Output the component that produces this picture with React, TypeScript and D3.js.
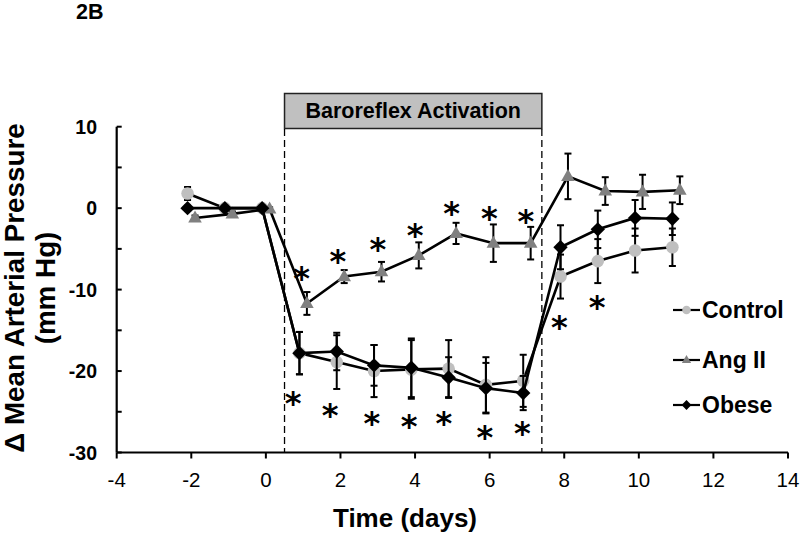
import React from "react";
import * as d3 from "d3";

const days = [-2, -1, 0, 1, 2, 3, 4, 5, 6, 7, 8, 9, 10, 11];
const leftX = [-2.1, -1.1, -0.1, 0.9, 1.9, 2.9, 3.9, 4.9, 5.9, 6.9, 7.9, 8.9, 9.9, 10.9];
const rightX = [-1.9, -0.9, 0.1, 1.1, 2.1, 3.1, 4.1, 5.1, 6.1, 7.1, 8.1, 9.1, 10.1, 11.1];

const controlVals = [1.8, 0, 0, -17.8, -18.9, -20.0, -19.8, -19.7, -21.7, -21.2, -8.4, -6.5, -5.2, -4.8];
const controlErr = [0.8, 0.3, 0.3, 2.6, 3.3, 3.2, 3.6, 3.5, 3.4, 3.2, 2.7, 2.7, 2.7, 2.3];
const angVals = [-1.2, -0.7, -0.1, -11.7, -8.4, -7.8, -5.8, -3.1, -4.3, -4.3, 3.9, 2.1, 2.0, 2.2];
const angErr = [0.3, 0.3, 0.2, 1.4, 0.8, 1.2, 1.6, 1.3, 2.3, 2.0, 2.8, 1.7, 2.1, 1.7];
const obeseVals = [0, 0, 0, -17.8, -17.6, -19.3, -19.6, -20.8, -22.1, -22.7, -4.8, -2.6, -1.2, -1.3];
const obeseErr = [0.3, 0.3, 0.3, 2.6, 2.3, 2.5, 3.6, 2.5, 3.1, 2.1, 2.7, 2.3, 2.2, 2.0];

const sigX = [0.96, 1.93, 3.0, 4.0, 4.98, 5.99, 6.97, 0.73, 1.72, 2.84, 3.84, 4.77, 5.87, 6.88, 7.87, 8.88];
const sigY = [-7.8, -5.7, -4.3, -2.5, 0.2, -0.5, -0.8, -23.2, -24.6, -25.6, -26.0, -25.6, -27.3, -26.9, -13.8, -11.4];

const xTicks = [-4, -2, 0, 2, 4, 6, 8, 10, 12, 14];
const yTicksMinor = [-30, -25, -20, -15, -10, -5, 0, 5, 10];
const yTickLabels = [-30, -20, -10, 0, 10];
const activation = [0.5, 7.4];
const seriesNames = ["Control", "Ang II", "Obese"];

const FONT = "'Liberation Sans', Arial, Helvetica, sans-serif";

type Series = { name: string; xs: number[]; vals: number[]; err: number[]; shape: string; fill: string };

const series: Series[] = [
  { name: seriesNames[0], xs: leftX, vals: controlVals, err: controlErr, shape: "circle", fill: "#bfbfbf" },
  { name: seriesNames[1], xs: rightX, vals: angVals, err: angErr, shape: "triangle", fill: "#808080" },
  { name: seriesNames[2], xs: leftX, vals: obeseVals, err: obeseErr, shape: "diamond", fill: "#000000" },
];

function Marker({ shape, cx, cy, fill, s }: { shape: string; cx: number; cy: number; fill: string; s: number }) {
  if (shape === "circle") return <circle cx={cx} cy={cy} r={6.3 * s} fill={fill} />;
  if (shape === "triangle") {
    const w = 6.8 * s, h = 12 * s;
    return <path d={`M${cx},${cy - h * 0.62}L${cx + w},${cy + h * 0.38}L${cx - w},${cy + h * 0.38}Z`} fill={fill} />;
  }
  const r = 7.2 * s;
  return <path d={`M${cx},${cy - r}L${cx + r},${cy}L${cx},${cy + r}L${cx - r},${cy}Z`} fill={fill} />;
}

export default function App() {
  const x = d3.scaleLinear().domain([-4, 14]).range([116.7, 788]);
  const y = d3.scaleLinear().domain([-30, 10]).range([452.5, 126.7]);
  const line = d3.line<[number, number]>().x((d) => x(d[0])).y((d) => y(d[1]));
  const x0 = x(-4);
  const yBase = y(-30);

  return (
    <svg width={800} height={536} style={{ position: "absolute", left: 0, top: 0, background: "#fff" }} fontFamily={FONT}>
      <rect width={800} height={536} fill="#fff" />
      <text x={76} y={19} fontSize={21.5} fontWeight="bold">2B</text>

      {/* activation box and dashed lines */}
      <rect x={x(activation[0])} y={93.5} width={x(activation[1]) - x(activation[0])} height={35} fill="#c0c0c0" stroke="#222" strokeWidth={1.5} />
      <text x={(x(activation[0]) + x(activation[1])) / 2} y={118} textAnchor="middle" fontSize={21.5} fontWeight="bold">Baroreflex Activation</text>
      {activation.map((a, i) => (
        <line key={i} x1={x(a)} x2={x(a)} y1={129} y2={yBase} stroke="#000" strokeWidth={1.3} strokeDasharray="7,4" />
      ))}

      {/* axes */}
      <line x1={x0} x2={x0} y1={y(10)} y2={yBase} stroke="#000" strokeWidth={2.2} />
      <line x1={x0} x2={x(14)} y1={yBase} y2={yBase} stroke="#000" strokeWidth={2.2} />
      {yTicksMinor.map((t) => (
        <line key={t} x1={x0} x2={x0 + 5} y1={y(t)} y2={y(t)} stroke="#000" strokeWidth={2} />
      ))}
      {yTickLabels.map((t) => (
        <text key={t} x={97} y={y(t) + 7} textAnchor="end" fontSize={19.5} fontWeight="bold">{t}</text>
      ))}
      {xTicks.map((t) => (
        <g key={t}>
          <line x1={x(t)} x2={x(t)} y1={yBase} y2={yBase + 6} stroke="#000" strokeWidth={2} />
          <text x={x(t)} y={486.5} textAnchor="middle" fontSize={20.5}>{t}</text>
        </g>
      ))}
      <text x={405} y={527} textAnchor="middle" fontSize={26} fontWeight="bold">Time (days)</text>
      <g transform="translate(24,288) rotate(-90)">
        <text x={0} y={0} textAnchor="middle" fontSize={27.8} fontWeight="bold">Δ Mean Arterial Pressure</text>
      </g>
      <g transform="translate(55,288) rotate(-90)">
        <text x={0} y={0} textAnchor="middle" fontSize={27.8} fontWeight="bold">(mm Hg)</text>
      </g>

      {/* series */}
      {series.map((s) => {
        const pts = s.xs.map((xv, i) => [xv, s.vals[i]] as [number, number]);
        return (
          <g key={s.name}>
            <path d={line(pts) || ""} fill="none" stroke="#000" strokeWidth={2.6} />
            {pts.map((p, i) => {
              const cx = x(p[0]);
              const t = y(p[1] + s.err[i]);
              const b = y(p[1] - s.err[i]);
              return (
                <g key={i} stroke="#000" strokeWidth={2}>
                  <line x1={cx} x2={cx} y1={t} y2={b} />
                  <line x1={cx - 3.5} x2={cx + 3.5} y1={t} y2={t} />
                  <line x1={cx - 3.5} x2={cx + 3.5} y1={b} y2={b} />
                </g>
              );
            })}
            {pts.map((p, i) => (
              <Marker key={"m" + i} shape={s.shape} cx={x(p[0])} cy={y(p[1])} fill={s.fill} s={1} />
            ))}
          </g>
        );
      })}

      {/* significance */}
      {sigX.map((sx, i) => (
        <text key={i} x={x(sx)} y={y(sigY[i]) + 17} textAnchor="middle" fontSize={32} fontWeight="bold" fontFamily="'DejaVu Sans', sans-serif">*</text>
      ))}

      {/* legend */}
      {series.map((s, i) => {
        const cy = [310, 360, 405][i];
        return (
          <g key={s.name}>
            <line x1={673} x2={700} y1={cy} y2={cy} stroke="#000" strokeWidth={2.2} />
            <Marker shape={s.shape} cx={686.5} cy={cy} fill={s.fill} s={0.68} />
            <text x={702} y={cy + 8} fontSize={23} fontWeight="bold">{s.name}</text>
          </g>
        );
      })}
    </svg>
  );
}
